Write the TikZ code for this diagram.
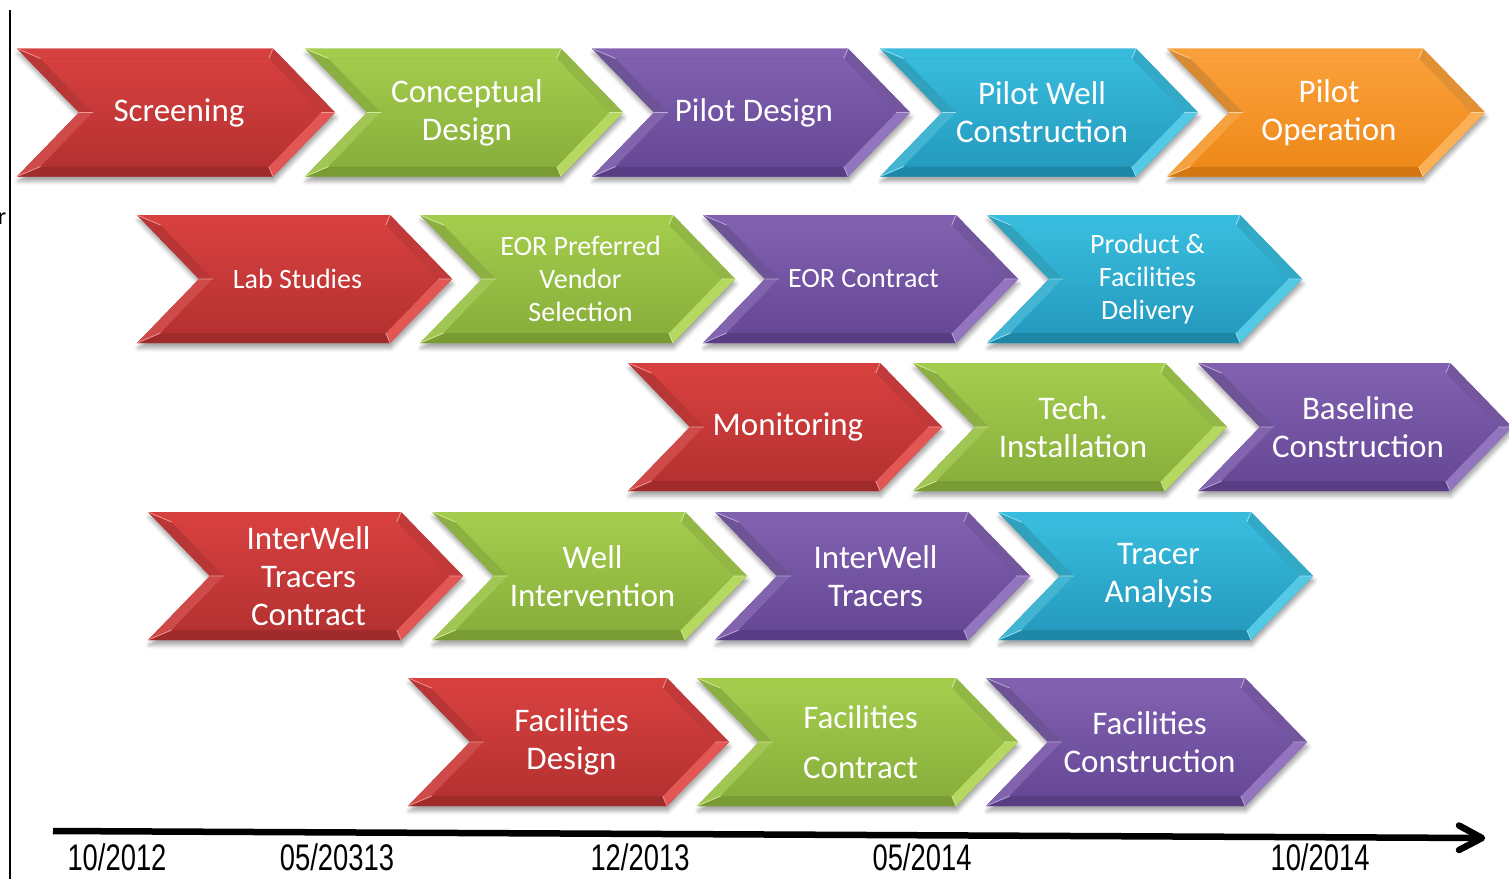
\documentclass[tikz,border=0pt]{standalone}
\usepackage{fontspec}
\setmainfont{Carlito}
\newfontfamily\datefont[FakeStretch=0.74]{Liberation Sans}
\usetikzlibrary{shadows.blur}

% chevron palettes: T = top of face, B = bottom of face, L = light bevel, D = dark bevel
\definecolor{redT}{HTML}{D6403F}\definecolor{redB}{HTML}{B53131}
\definecolor{redL}{HTML}{EC6A66}\definecolor{redD}{HTML}{A02B2B}
\definecolor{grnT}{HTML}{A3CB4C}\definecolor{grnB}{HTML}{88AF3B}
\definecolor{grnL}{HTML}{C2E270}\definecolor{grnD}{HTML}{789C33}
\definecolor{purT}{HTML}{8060AF}\definecolor{purB}{HTML}{664896}
\definecolor{purL}{HTML}{A185CC}\definecolor{purD}{HTML}{583D84}
\definecolor{cyaT}{HTML}{38BCDD}\definecolor{cyaB}{HTML}{249ABE}
\definecolor{cyaL}{HTML}{6AD3EC}\definecolor{cyaD}{HTML}{1D87A7}
\definecolor{orgT}{HTML}{FAA03A}\definecolor{orgB}{HTML}{EE8919}
\definecolor{orgL}{HTML}{FDBE6C}\definecolor{orgD}{HTML}{D27612}

\tikzset{
  lbl/.style={text=white, align=center, inner sep=0pt},
  bigtxt/.style={font=\fontsize{33}{38}\selectfont},
  smalltxt/.style={font=\fontsize{28}{33}\selectfont},
  datelbl/.style={font=\datefont\fontsize{37}{40}\selectfont, inner sep=0pt},
  timeline/.style={line width=6.5pt, black},
  chevshadow/.style={blur shadow={shadow xshift=1pt, shadow yshift=-5pt,
      shadow opacity=35, shadow blur radius=4pt}}
}

% \chevron{name}{left x}{mid y}{width}{palette}{text style}{text}
% half height 64, point depth 62, bevel inset 10
\newcommand{\chevron}[7]{%
  \def\cx{#2}\def\cy{#3}\def\cw{#4}%
  % outer silhouette with drop shadow
  \fill[#5B, chevshadow] (\cx,\cy-64) -- ({\cx+\cw-62},\cy-64) -- ({\cx+\cw},\cy)
    -- ({\cx+\cw-62},\cy+64) -- (\cx,\cy+64) -- ({\cx+62},\cy) -- cycle;
  % bevel facets
  \fill[#5T] (\cx,\cy-64) -- ({\cx+\cw-62},\cy-64) -- ({\cx+\cw-62+9.7-13.9},\cy-54)
    -- ({\cx+23.6},\cy-54) -- cycle;
  \fill[#5T!90!black] ({\cx+\cw-62},\cy-64) -- ({\cx+\cw},\cy) -- ({\cx+\cw-13.9},\cy)
    -- ({\cx+\cw-62+9.7-13.9},\cy-54) -- cycle;
  \fill[#5L!55!#5T] ({\cx+\cw},\cy) -- ({\cx+\cw-62},\cy+64) -- ({\cx+\cw-62+9.7-13.9},\cy+54)
    -- ({\cx+\cw-13.9},\cy) -- cycle;
  \fill[#5D] ({\cx+\cw-62},\cy+64) -- (\cx,\cy+64) -- ({\cx+23.6},\cy+54)
    -- ({\cx+\cw-62+9.7-13.9},\cy+54) -- cycle;
  \fill[#5L!45!#5B] (\cx,\cy+64) -- ({\cx+62},\cy) -- ({\cx+62+13.9},\cy)
    -- ({\cx+23.6},\cy+54) -- cycle;
  \fill[#5T!86!black] ({\cx+62},\cy) -- (\cx,\cy-64) -- ({\cx+23.6},\cy-54)
    -- ({\cx+62+13.9},\cy) -- cycle;
  % face
  \shade[top color=#5T, bottom color=#5B] ({\cx+23.6},\cy-54) -- ({\cx+\cw-62+9.7-13.9},\cy-54)
    -- ({\cx+\cw-13.9},\cy) -- ({\cx+\cw-62+9.7-13.9},\cy+54) -- ({\cx+23.6},\cy+54)
    -- ({\cx+62+13.9},\cy) -- cycle;
  % light mitre lines
  \draw[#5L!70!white, line width=0.8pt]
    (\cx,\cy-64) -- ({\cx+23.6},\cy-54)
    ({\cx+62},\cy) -- ({\cx+62+13.9},\cy)
    (\cx,\cy+64) -- ({\cx+23.6},\cy+54)
    ({\cx+\cw-62},\cy-64) -- ({\cx+\cw-62+9.7-13.9},\cy-54)
    ({\cx+\cw},\cy) -- ({\cx+\cw-13.9},\cy)
    ({\cx+\cw-62},\cy+64) -- ({\cx+\cw-62+9.7-13.9},\cy+54);
  \node[lbl, #6] (#1) at ({\cx+\cw/2+3},\cy) {#7};%
}

\begin{document}
\begin{tikzpicture}[x=1pt, y=-1pt]
  \useasboundingbox (0,0) rectangle (1509,879);

  % frame line and clipped letter on the left
  \draw[line width=1.8pt] (10,10) coordinate (vtop) -- (10,879) coordinate (vbot);
  \node[anchor=east, font=\fontsize{24}{28}\selectfont, inner sep=0pt] (cut) at (6.5,219) {r};

  % row 1
  \chevron{screen}{17}{112.5}{318}{red}{bigtxt}{Screening}
  \chevron{concept}{305}{112.5}{318}{grn}{bigtxt}{Conceptual\\Design}
  \chevron{pilotd}{592}{112.5}{318}{pur}{bigtxt}{Pilot Design}
  \chevron{pilotw}{880}{112.5}{318}{cya}{bigtxt}{Pilot Well\\Construction}
  \chevron{piloto}{1167}{112.5}{318}{org}{bigtxt}{Pilot\\Operation}

  % row 2
  \chevron{lab}{137}{279}{315}{red}{smalltxt}{Lab Studies}
  \chevron{vendor}{420}{279}{315}{grn}{smalltxt}{EOR Preferred\\Vendor\\Selection}
  \chevron{eorc}{703}{279}{315}{pur}{smalltxt}{EOR Contract}
  \chevron{product}{987}{279}{315}{cya}{smalltxt}{Product \&\\Facilities\\Delivery}

  % row 3
  \chevron{monitor}{628}{427}{314}{red}{bigtxt}{Monitoring}
  \chevron{tech}{913}{427}{314}{grn}{bigtxt}{Tech.\\Installation}
  \chevron{baseline}{1198}{427}{314}{pur}{bigtxt}{Baseline\\Construction}

  % row 4
  \chevron{iwcontract}{148}{576}{315}{red}{bigtxt}{InterWell\\Tracers\\Contract}
  \chevron{wellint}{432}{576}{315}{grn}{bigtxt}{Well\\Intervention}
  \chevron{iwtracers}{715}{576}{315}{pur}{bigtxt}{InterWell\\Tracers}
  \chevron{traceran}{998}{576}{315}{cya}{bigtxt}{Tracer\\Analysis}

  % row 5
  \chevron{facdes}{408}{742}{321}{red}{bigtxt}{Facilities\\Design}
  \chevron{faccon}{697}{742}{321}{grn}{bigtxt}{Facilities\\[12pt]Contract}
  \chevron{facbuild}{986}{742}{321}{pur}{bigtxt}{Facilities\\Construction}

  % time axis
  \coordinate (t0) at (53,831);
  \coordinate (t1) at (1482,838);
  \coordinate (h1) at (1459,825.5);
  \coordinate (h2) at (1459,850);
  \draw[timeline] (t0) -- (t1);
  \draw[timeline, line cap=round, line join=round] (h1) -- (t1) -- (h2);

  \node[datelbl] (d1) at (117,857) {10/2012};
  \node[datelbl] (d2) at (337,857) {05/20313};
  \node[datelbl] (d3) at (640,857) {12/2013};
  \node[datelbl] (d4) at (922,857) {05/2014};
  \node[datelbl] (d5) at (1320,857) {10/2014};
\end{tikzpicture}
\end{document}
